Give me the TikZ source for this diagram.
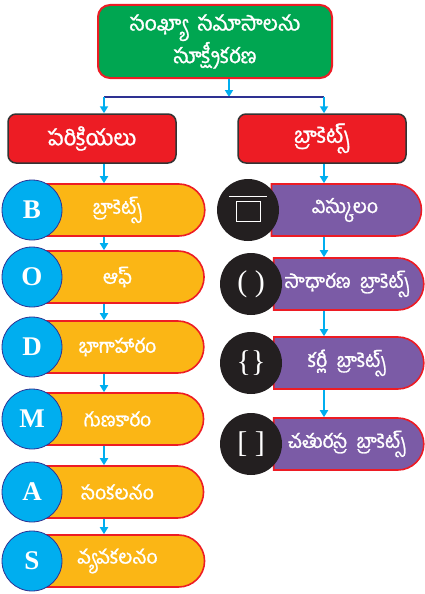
\documentclass[tikz,border=0pt]{standalone}
\usepackage{fontspec}
\newfontfamily\te[Script=Telugu,FakeBold=1.2,WordSpace=2]{Hind Guntur}
\newfontfamily\lser{Liberation Serif}
\usetikzlibrary{arrows.meta,shapes.misc}
\definecolor{gr}{HTML}{00A651}
\definecolor{rd}{HTML}{ED1C24}
\definecolor{yl}{HTML}{FBB615}
\definecolor{pu}{HTML}{7B5BA6}
\definecolor{cy}{HTML}{00AEEF}
\definecolor{nv}{HTML}{2E3192}
\definecolor{bk}{HTML}{231F20}
\definecolor{dk}{HTML}{333333}
\begin{document}
\begin{tikzpicture}[x=1pt,y=-1pt,
  arr/.style={draw=cy, line width=1.8pt, -{Triangle[width=8pt,length=7pt]}},
  topbox/.style={rectangle, rounded corners=12pt, fill=gr, draw=rd, line width=2pt,
    minimum width=234pt, minimum height=73pt, align=center, text=white,
    font=\te\fontsize{21}{31}\selectfont},
  headbox/.style={rectangle, rounded corners=8pt, fill=rd, draw=dk, line width=1.5pt,
    minimum width=168pt, minimum height=49pt, text=white,
    font=\te\fontsize{22}{24}\selectfont},
  pill/.style={rounded rectangle, rounded rectangle left arc=none, draw=rd,
    line width=1.6pt, minimum height=52pt, inner sep=0pt, text=white,
    font=\te\fontsize{19.5}{22}\selectfont},
  pillL/.style={pill, fill=yl, minimum width=171pt},
  pillR/.style={pill, fill=pu, minimum width=150pt},
  lcirc/.style={circle, fill=cy, draw=nv, line width=0.8pt, minimum size=60pt,
    inner sep=0pt, text=white, font=\lser\bfseries\fontsize{27}{27}\selectfont},
  rcirc/.style={circle, fill=bk, minimum size=62pt, inner sep=0pt, text=white,
    font=\lser\fontsize{30}{30}\selectfont},
]
\useasboundingbox (0,0) rectangle (425,594);

% top
\node[topbox] (g) at (215,41.5) {సంఖ్యా సమాసాలను\\సూక్ష్మీకరణ};
\node[headbox] (rl) at (92,138.5) {పరిక్రియలు};
\node[headbox] (rr) at (322,138.5) {బ్రాకెట్స్};

\coordinate (tm) at (229,97);
\coordinate (jl) at (104,97);
\coordinate (jr) at (324,97);
\draw[arr] (g.south -| tm) -- (tm);
\draw[nv, line width=1.8pt] (jl) -- (jr);
\draw[arr] (jl) -- (rl.north -| jl);
\draw[arr] (jr) -- (rr.north -| jr);

% left column
\node[pillL] (p1) at (117.5,210) {బ్రాకెట్స్};
\node[pillL] (p2) at (117.5,277) {ఆఫ్};
\node[pillL] (p3) at (117.5,347) {భాగాహారం};
\node[pillL] (p4) at (117.5,419) {గుణకారం};
\node[pillL] (p5) at (117.5,492) {సంకలనం};
\node[pillL] (p6) at (117.5,561) {వ్యవకలనం};
\node[lcirc] (c1) at (32,210) {B};
\node[lcirc] (c2) at (32,277) {O};
\node[lcirc] (c3) at (32,347) {D};
\node[lcirc] (c4) at (32,419) {M};
\node[lcirc] (c5) at (32,492) {A};
\node[lcirc] (c6) at (32,561) {S};

\draw[arr] (rl.south -| jl) -- (p1.north -| jl);
\draw[arr] (p1.south -| jl) -- (p2.north -| jl);
\draw[arr] (p2.south -| jl) -- (p3.north -| jl);
\draw[arr] (p3.south -| jl) -- (p4.north -| jl);
\draw[arr] (p4.south -| jl) -- (p5.north -| jl);
\draw[arr] (p5.south -| jl) -- (p6.north -| jl);

% right column
\node[pillR] (q1) at (345,210) {విస్కులం};
\node[pillR] (q2) at (347,284) {సాధారణ బ్రాకెట్స్};
\node[pillR] (q3) at (347,363) {కర్లీ బ్రాకెట్స్};
\node[pillR] (q4) at (347,444) {చతురస్ర బ్రాకెట్స్};
\node[rcirc] (d1) at (248,210) {};
\node[rcirc] (d2) at (251,284) {( )};
\node[rcirc] (d3) at (251,363) {\{\}};
\node[rcirc] (d4) at (251,444) {[ ]};
\draw[white, line width=1pt] ([shift={(-19,-14)}]d1.center) -- ([shift={(19,-14)}]d1.center);
\draw[white, line width=1pt] ([shift={(-12,-9)}]d1.center) rectangle ([shift={(12,11)}]d1.center);

\draw[arr] (rr.south -| jr) -- (q1.north -| jr);
\draw[arr] (q1.south -| jr) -- (q2.north -| jr);
\draw[arr] (q2.south -| jr) -- (q3.north -| jr);
\draw[arr] (q3.south -| jr) -- (q4.north -| jr);
\end{tikzpicture}
\end{document}
